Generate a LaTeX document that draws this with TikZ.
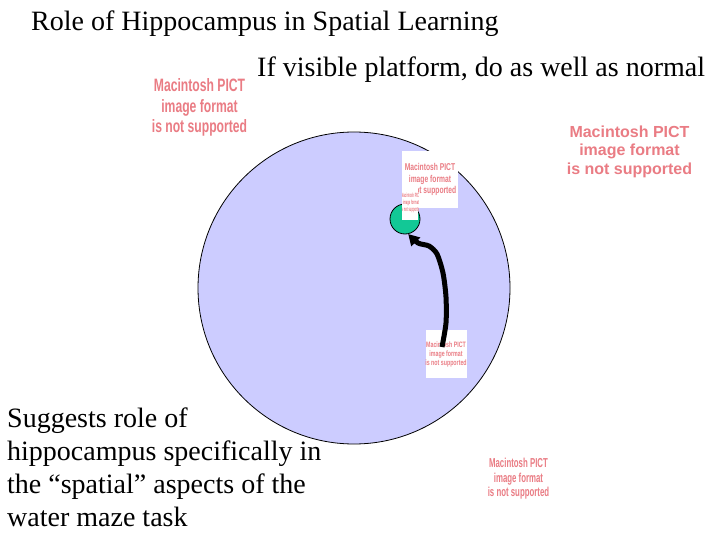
\documentclass[tikz,border=0pt]{standalone}
\usepackage{fontspec}
\usepackage{graphicx}
\setmainfont{Liberation Serif}
\newfontfamily\pictfont{Liberation Sans}
\usetikzlibrary{arrows.meta}
\definecolor{pictpink}{RGB}{234,124,132}
\definecolor{pool}{RGB}{204,204,255}
\definecolor{platgreen}{RGB}{18,200,150}
\newcommand\pictmsg[2]{\scalebox{#1}[#2]{\pictfont\bfseries\fontsize{16}{18.5}\selectfont\begin{tabular}{@{}c@{}}Macintosh PICT\\image format\\is not supported\end{tabular}}}
\tikzset{
  pict/.style={inner sep=0pt, text=pictpink},
  slidetext/.style={inner sep=0pt, font=\fontsize{28}{33}\selectfont},
  track/.style={line width=5pt, line join=round, -{Triangle[length=11pt,width=12pt]}},
}
\begin{document}
\begin{tikzpicture}[x=1pt,y=-1pt]
\useasboundingbox[fill=white] (0,0) rectangle (720,540);
% titles
\node[slidetext, anchor=base west] (title) at (31,31) {Role of Hippocampus in Spatial Learning};
\node[slidetext, anchor=base west] (visible) at (257,77) {If visible platform, do as well as normal};
% placeholders outside the pool
\node[pict] (pic1) at (199.5,108) {\pictmsg{0.76}{1.12}};
\node[pict] (pic2) at (629.5,152) {\pictmsg{1}{1}};
\node[pict] (pic5) at (518.5,479) {\pictmsg{0.49}{0.81}};
% pool
\node[circle, draw, fill=pool, minimum size=312pt, inner sep=0pt, line width=0.8pt] (arena) at (354,288) {};
% placeholder near the platform
\fill[white] (402,151) rectangle (458,208);
\node[pict] (pic3) at (430,180) {\pictmsg{0.42}{0.62}};
\node[circle, draw, fill=platgreen, minimum size=30pt, inner sep=0pt, line width=0.8pt] (plat) at (405,219) {};
\fill[white] (402,185) rectangle (418,220);
\begin{scope}
\clip (402,185) rectangle (418,220);
\node[pict] (pic3b) at (411,203) {\pictmsg{0.16}{0.38}};
\end{scope}
% placeholder at the start
\fill[white] (426,330) rectangle (467,378);
\node[pict] (pic4) at (446,355) {\pictmsg{0.33}{0.49}};
% swim path
\coordinate (start) at (442,347);
\draw[track] plot[smooth, tension=0.45] coordinates {(start) (446,323) (446,297) (443,273) (437,254) (429,246) (418,243) (plat.-78)};
% note (last line baseline)
\node[slidetext, anchor=base west, align=left] (note) at (7,526) {Suggests role of\\hippocampus specifically in\\the “spatial” aspects of the\\water maze task};
\end{tikzpicture}
\end{document}
